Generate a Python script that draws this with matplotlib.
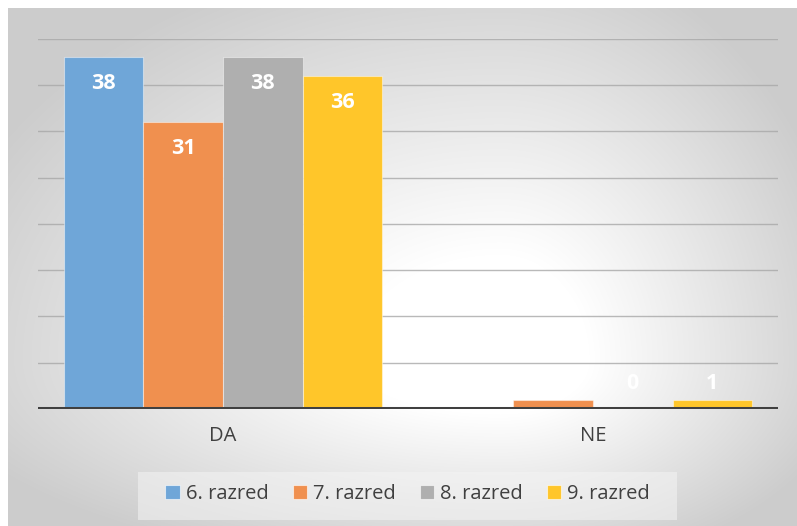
import numpy as np
import matplotlib
matplotlib.use("Agg")
import matplotlib.pyplot as plt
from matplotlib.patches import Rectangle

categories = ["DA", "NE"]
series_names = ["6. razred", "7. razred", "8. razred", "9. razred"]
values = {
    "6. razred": [38, 0],
    "7. razred": [31, 1],
    "8. razred": [38, 0],
    "9. razred": [36, 1],
}
colors = ["#6fa6d8", "#f0904f", "#afafaf", "#ffc62a"]
y_max = 40
y_step = 5

plt.rcParams['font.family'] = ['Open Sans', 'DejaVu Sans']

W, H = 797, 526
fig = plt.figure(figsize=(W / 100, H / 100), dpi=100)

# background gradient
bg = fig.add_axes([0, 0, 1, 1])
bg.set_axis_off()
xx, yy = np.meshgrid(np.arange(W), np.arange(H))
cx, cy = 500, 360
nx = np.where(xx < cx, (xx - cx) / 492.0, (xx - cx) / 297.0)
ny = np.where(yy < cy, (yy - cy) / 352.0, (yy - cy) / 180.0)
r = np.sqrt(nx ** 2 + ny ** 2)
t = np.clip((r - 0.3) / 0.9, 0, 1)
val = 1 - 0.2 * np.power(t, 1.0)
img = np.dstack([val, val, val])
img[:8, :, :] = 1.0
img[:, :8, :] = 1.0
bg.imshow(img, extent=[0, W, H, 0], aspect='auto', interpolation='bilinear')
bg.set_xlim(0, W)
bg.set_ylim(H, 0)
# legend box
bg.add_patch(Rectangle((138, 472), 539, 48, facecolor='#f4f4f4', edgecolor='none', alpha=0.55))

ax = fig.add_axes([38 / W, (H - 409) / H, 740 / W, (409 - 38.6) / H])
ax.patch.set_alpha(0)
x = np.arange(len(categories))
bw = 0.215
n = len(series_names)
for i, (name, c) in enumerate(zip(series_names, colors)):
    off = (i - (n - 1) / 2) * bw
    vals = values[name]
    ax.bar(x + off, vals, bw, color=c, edgecolor=(1, 1, 1, 0.45), linewidth=0.8,
           zorder=3, label=name)
    for xi, v in zip(x, vals):
        ly = v - 2.9 if v > 6 else 2.8
        ax.text(xi + off, ly, str(v), ha='center', va='center', color='white',
                fontsize=15.5, fontweight='bold', zorder=4)

ax.set_xlim(-0.5, len(categories) - 0.5)
ax.set_ylim(0, y_max)
for yv in np.arange(y_step, y_max + 0.1, y_step):
    ax.axhline(yv, color='#a8a8a8', linewidth=1.0, alpha=0.8, zorder=1)
ax.axhline(0, color='#404040', linewidth=2.9, zorder=5)
ax.set_yticks([])
ax.set_xticks(x)
ax.set_xticklabels(categories, fontsize=14.5, color='#404040')
ax.tick_params(axis='x', length=0, pad=12)
for s in ax.spines.values():
    s.set_visible(False)

handles = [Rectangle((0, 0), 1, 1, facecolor=c, edgecolor=(1, 1, 1, 0.6), linewidth=0.8) for c in colors]
fig.legend(handles, series_names, loc='center', bbox_to_anchor=(407.5 / W, 1 - 494 / H),
           ncol=4, frameon=False, fontsize=14.5, handlelength=0.7, handleheight=0.7,
           handletextpad=0.3, columnspacing=1.2, labelcolor='#404040')

fig.savefig("out.png", dpi=100)
